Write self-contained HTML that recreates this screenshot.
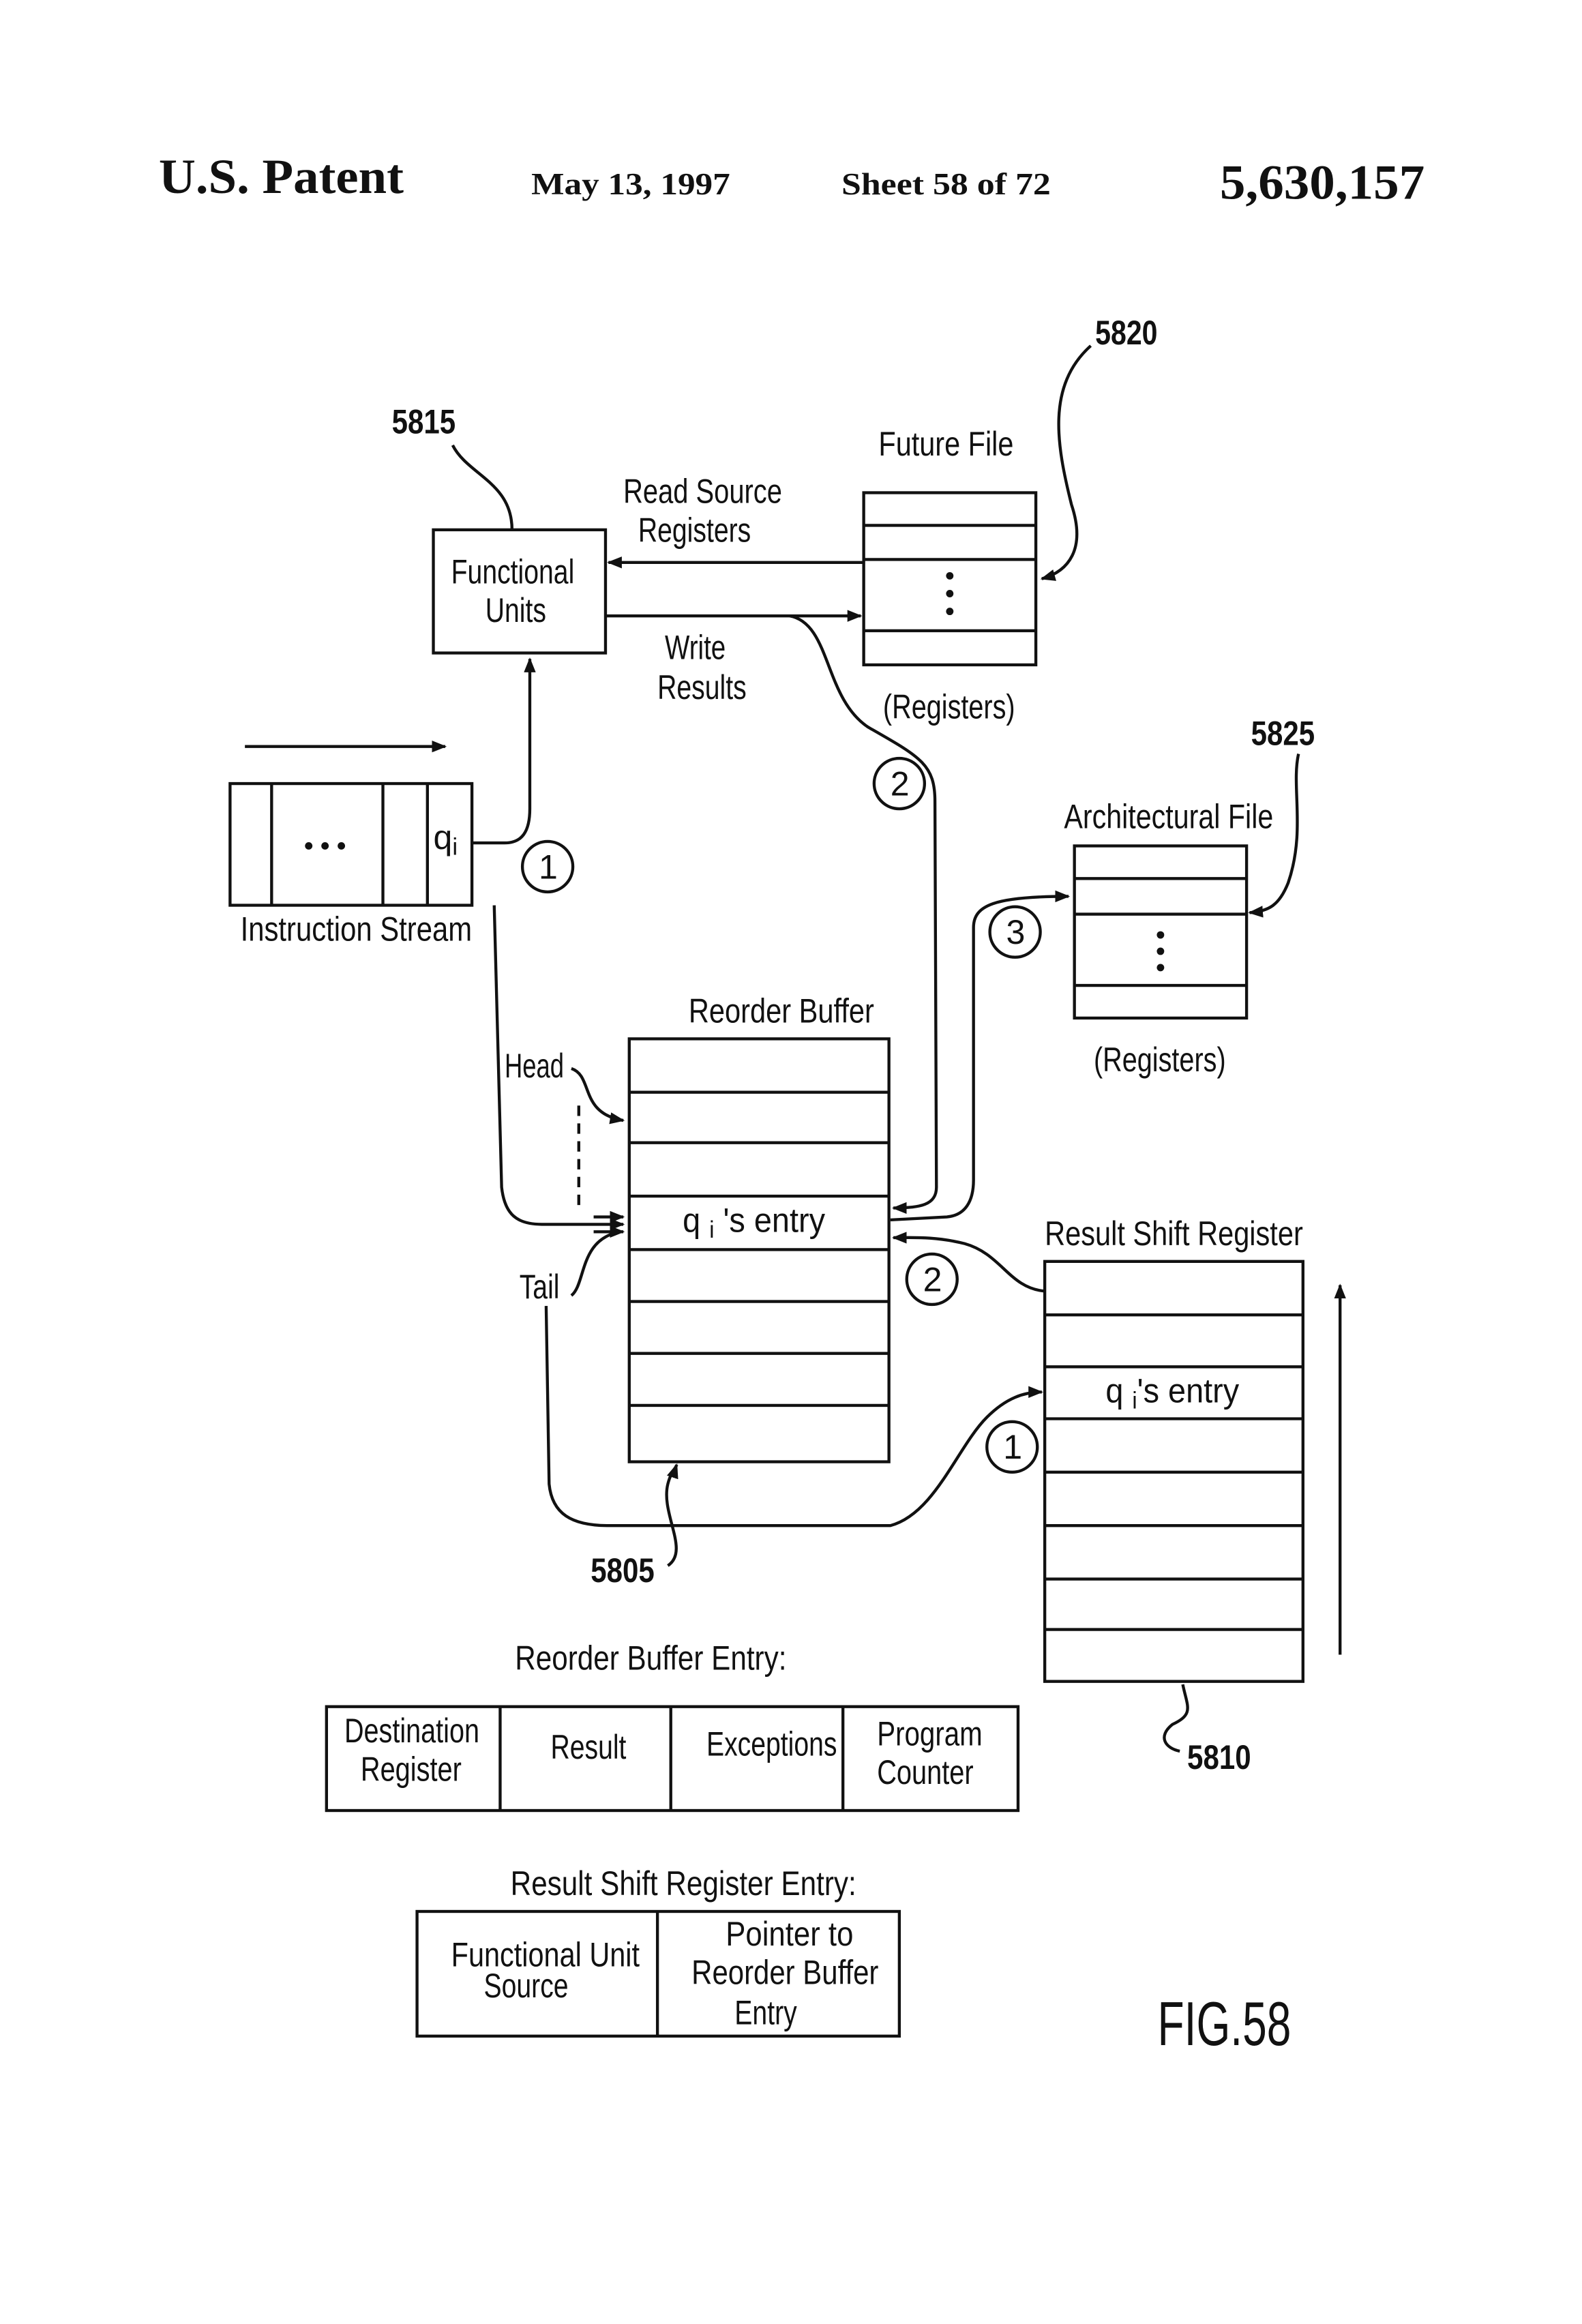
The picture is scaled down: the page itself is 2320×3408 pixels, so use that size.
<!DOCTYPE html>
<html><head><meta charset="utf-8"><style>
html,body{margin:0;padding:0;background:#fff;}
svg{display:block;}
text{font-family:"Liberation Sans Narrow","Liberation Sans",sans-serif;fill:#111;}
.h{font-family:"Liberation Serif",serif;font-weight:bold;}
</style></head><body>
<svg width="2320" height="3408" viewBox="0 0 1066 1566" xmlns="http://www.w3.org/2000/svg">
<defs>
<marker id="a" markerWidth="10" markerHeight="8" refX="9" refY="4" orient="auto" markerUnits="userSpaceOnUse">
<path d="M0,0 L10,4 L0,8 Z" fill="#111"/></marker>
</defs>
<g>
<text class="h" x="107" y="130" font-size="33" textLength="165" lengthAdjust="spacingAndGlyphs">U.S. Patent</text>
<text class="h" x="358" y="131" font-size="21" textLength="134" lengthAdjust="spacingAndGlyphs">May 13, 1997</text>
<text class="h" x="567" y="131" font-size="21" textLength="141" lengthAdjust="spacingAndGlyphs">Sheet 58 of 72</text>
<text class="h" x="822" y="134" font-size="33" textLength="138" lengthAdjust="spacingAndGlyphs">5,630,157</text>
</g>
<g fill="none" stroke="#111" stroke-width="2">
<rect x="582" y="332" width="116" height="116"/>
<line x1="582" y1="354" x2="698" y2="354"/><line x1="582" y1="377" x2="698" y2="377"/><line x1="582" y1="425" x2="698" y2="425"/>
<rect x="292" y="357" width="116" height="83"/>
<line x1="582" y1="379" x2="410" y2="379" marker-end="url(#a)"/>
<line x1="408" y1="415" x2="580" y2="415" marker-end="url(#a)"/>
<path d="M532,415 C560,420 555,470 585,490 C620,510 630,515 630,540 L631,800 C631,812 620,814 602,814" marker-end="url(#a)"/>
<circle cx="606" cy="528" r="17"/>
<path d="M735,233 C705,260 712,300 722,340 C732,370 720,385 702,390" marker-end="url(#a)"/>
<path d="M305,300 C315,320 345,325 345,357"/>
<line x1="165" y1="503" x2="300" y2="503" marker-end="url(#a)"/>
<rect x="155" y="528" width="163" height="82"/>
<line x1="183" y1="528" x2="183" y2="610"/><line x1="258" y1="528" x2="258" y2="610"/><line x1="288" y1="528" x2="288" y2="610"/>
<path d="M318,568 L340,568 C352,568 357,560 357,545 L357,444" marker-end="url(#a)"/>
<circle cx="369" cy="584" r="17"/>
<path d="M333,610 L338,800 C340,818 348,825 365,825 L420,825" marker-end="url(#a)"/>
<line x1="400" y1="820" x2="420" y2="820" marker-end="url(#a)"/>
<line x1="400" y1="830" x2="420" y2="830" marker-end="url(#a)"/>
<path d="M385,720 C400,725 390,750 420,755" marker-end="url(#a)"/>
<line x1="390" y1="745" x2="390" y2="815" stroke-dasharray="7,5"/>
<path d="M385,873 C395,865 390,835 418,830"/>
<rect x="424" y="700" width="175" height="285"/>
<line x1="424" y1="736" x2="599" y2="736"/><line x1="424" y1="770" x2="599" y2="770"/><line x1="424" y1="806" x2="599" y2="806"/><line x1="424" y1="842" x2="599" y2="842"/><line x1="424" y1="877" x2="599" y2="877"/><line x1="424" y1="912" x2="599" y2="912"/><line x1="424" y1="947" x2="599" y2="947"/>
<path d="M450,1055 C465,1045 445,1020 450,1000 C452,992 455,990 456,987" marker-end="url(#a)"/>
<circle cx="684" cy="628" r="17"/>
<path d="M600,822 L638,820 C650,819 656,810 656,795 L656,625 C656,610 670,604 720,604" marker-end="url(#a)"/>
<rect x="724" y="570" width="116" height="116"/>
<line x1="724" y1="592" x2="840" y2="592"/><line x1="724" y1="616" x2="840" y2="616"/><line x1="724" y1="664" x2="840" y2="664"/>
<path d="M875,508 C870,530 880,560 868,595 C862,610 855,614 842,615" marker-end="url(#a)"/>
<rect x="704" y="850" width="174" height="283"/>
<line x1="704" y1="886" x2="878" y2="886"/><line x1="704" y1="921" x2="878" y2="921"/><line x1="704" y1="956" x2="878" y2="956"/><line x1="704" y1="992" x2="878" y2="992"/><line x1="704" y1="1028" x2="878" y2="1028"/><line x1="704" y1="1064" x2="878" y2="1064"/><line x1="704" y1="1098" x2="878" y2="1098"/>
<circle cx="628" cy="862" r="17"/>
<path d="M704,870 C680,868 675,845 650,838 C630,833 615,834 602,834" marker-end="url(#a)"/>
<circle cx="682" cy="975" r="17"/>
<path d="M368,880 L370,1000 C372,1020 385,1028 410,1028 L600,1028 C630,1020 645,975 665,955 C678,942 690,938 702,938" marker-end="url(#a)"/>
<line x1="903" y1="1115" x2="903" y2="866" marker-end="url(#a)"/>
<path d="M797,1135 C800,1150 805,1155 790,1162 C780,1170 785,1178 795,1180"/>
<rect x="220" y="1150" width="466" height="70"/>
<line x1="337" y1="1150" x2="337" y2="1220"/><line x1="452" y1="1150" x2="452" y2="1220"/><line x1="568" y1="1150" x2="568" y2="1220"/>
<rect x="281" y="1288" width="325" height="84"/>
<line x1="443" y1="1288" x2="443" y2="1372"/>
</g>
<g fill="#111">
<circle cx="640" cy="388" r="2.5"/><circle cx="640" cy="400" r="2.5"/><circle cx="640" cy="412" r="2.5"/>
<circle cx="782" cy="630" r="2.5"/><circle cx="782" cy="641" r="2.5"/><circle cx="782" cy="652" r="2.5"/>
<circle cx="208" cy="570" r="2.5"/><circle cx="219" cy="570" r="2.5"/><circle cx="230" cy="570" r="2.5"/>
</g>
<g font-size="23">
<text x="738" y="232" font-weight="bold" textLength="42" lengthAdjust="spacingAndGlyphs">5820</text>
<text x="264" y="292" font-weight="bold" textLength="43" lengthAdjust="spacingAndGlyphs">5815</text>
<text x="843" y="502" font-weight="bold" textLength="43" lengthAdjust="spacingAndGlyphs">5825</text>
<text x="398" y="1066" font-weight="bold" textLength="43" lengthAdjust="spacingAndGlyphs">5805</text>
<text x="800" y="1192" font-weight="bold" textLength="43" lengthAdjust="spacingAndGlyphs">5810</text>
<text x="592" y="307" textLength="91" lengthAdjust="spacingAndGlyphs">Future File</text>
<text x="595" y="484" textLength="89" lengthAdjust="spacingAndGlyphs">(Registers)</text>
<text x="304" y="393" textLength="83" lengthAdjust="spacingAndGlyphs">Functional</text>
<text x="327" y="419" textLength="41" lengthAdjust="spacingAndGlyphs">Units</text>
<text x="420" y="339" textLength="107" lengthAdjust="spacingAndGlyphs">Read Source</text>
<text x="430" y="365" textLength="76" lengthAdjust="spacingAndGlyphs">Registers</text>
<text x="448" y="444" textLength="41" lengthAdjust="spacingAndGlyphs">Write</text>
<text x="443" y="471" textLength="60" lengthAdjust="spacingAndGlyphs">Results</text>
<text x="600" y="536">2</text>
<text x="363" y="592">1</text>
<text x="292" y="572">q<tspan font-size="16" dy="4">i</tspan></text>
<text x="162" y="634" textLength="156" lengthAdjust="spacingAndGlyphs">Instruction Stream</text>
<text x="464" y="689" textLength="125" lengthAdjust="spacingAndGlyphs">Reorder Buffer</text>
<text x="340" y="726" textLength="40" lengthAdjust="spacingAndGlyphs">Head</text>
<text x="350" y="875" textLength="27" lengthAdjust="spacingAndGlyphs">Tail</text>
<text x="460" y="830" textLength="96" lengthAdjust="spacingAndGlyphs">q <tspan font-size="16" dy="4">i</tspan><tspan dy="-4"> 's entry</tspan></text>
<text x="717" y="558" textLength="141" lengthAdjust="spacingAndGlyphs">Architectural File</text>
<text x="678" y="636">3</text>
<text x="737" y="722" textLength="89" lengthAdjust="spacingAndGlyphs">(Registers)</text>
<text x="704" y="839" textLength="174" lengthAdjust="spacingAndGlyphs">Result Shift Register</text>
<text x="622" y="870">2</text>
<text x="745" y="945" textLength="90" lengthAdjust="spacingAndGlyphs">q <tspan font-size="16" dy="4">i</tspan><tspan dy="-4">'s entry</tspan></text>
<text x="676" y="983">1</text>
<text x="347" y="1125" textLength="183" lengthAdjust="spacingAndGlyphs">Reorder Buffer Entry:</text>
<text x="232" y="1174" textLength="91" lengthAdjust="spacingAndGlyphs">Destination</text>
<text x="243" y="1200" textLength="68" lengthAdjust="spacingAndGlyphs">Register</text>
<text x="371" y="1185" textLength="51" lengthAdjust="spacingAndGlyphs">Result</text>
<text x="476" y="1183" textLength="88" lengthAdjust="spacingAndGlyphs">Exceptions</text>
<text x="591" y="1176" textLength="71" lengthAdjust="spacingAndGlyphs">Program</text>
<text x="591" y="1202" textLength="65" lengthAdjust="spacingAndGlyphs">Counter</text>
<text x="344" y="1277" textLength="233" lengthAdjust="spacingAndGlyphs">Result Shift Register Entry:</text>
<text x="304" y="1325" textLength="127" lengthAdjust="spacingAndGlyphs">Functional Unit</text>
<text x="326" y="1346" textLength="57" lengthAdjust="spacingAndGlyphs">Source</text>
<text x="489" y="1311" textLength="86" lengthAdjust="spacingAndGlyphs">Pointer to</text>
<text x="466" y="1337" textLength="126" lengthAdjust="spacingAndGlyphs">Reorder Buffer</text>
<text x="495" y="1364" textLength="42" lengthAdjust="spacingAndGlyphs">Entry</text>
<text x="780" y="1378" font-size="42" textLength="90" lengthAdjust="spacingAndGlyphs">FIG.58</text>
</g>
</svg>
</body></html>
